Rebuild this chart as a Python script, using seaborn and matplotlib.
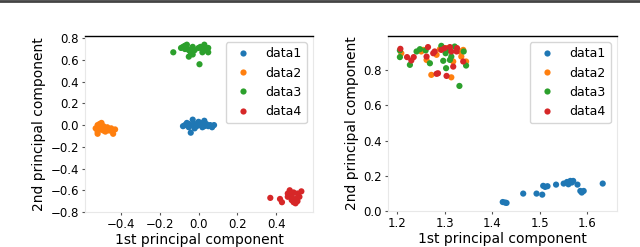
import numpy as np
import pandas as pd
import matplotlib
matplotlib.use("Agg")
import matplotlib.pyplot as plt
from matplotlib.lines import Line2D
import seaborn as sns

# ==========================================================
# DATA
# ==========================================================

labels = ["data1", "data2", "data3", "data4"]

# left panel
left_d1_x = [-0.08, -0.07, -0.06, -0.05, -0.04, -0.04, -0.03, -0.02, -0.01, 0.0, 0.01,
             0.02, 0.03, 0.04, 0.05, 0.06, 0.07, 0.08, -0.02, 0.0, 0.03, -0.05]
left_d1_y = [-0.01, 0.0, 0.02, -0.02, -0.07, 0.0, 0.05, 0.01, -0.01, 0.0, 0.02,
             -0.02, 0.04, 0.01, -0.01, 0.0, -0.02, 0.0, -0.03, 0.03, -0.01, 0.01]
left_d2_x = [-0.53, -0.52, -0.52, -0.51, -0.50, -0.50, -0.49, -0.49, -0.48, -0.47,
             -0.46, -0.45, -0.44, -0.43, -0.52, -0.51, -0.48]
left_d2_y = [-0.03, -0.06, 0.0, -0.02, -0.04, 0.02, -0.01, -0.05, -0.03, -0.02,
             -0.05, -0.03, -0.08, -0.04, -0.08, 0.01, -0.06]
left_d3_x = [-0.13, -0.08, -0.07, -0.06, -0.05, -0.06, -0.04, -0.03, -0.02, -0.03, 0.005,
             0.0, 0.02, 0.03, 0.04, 0.05, 0.02, -0.07, -0.09, 0.05, -0.05, 0.01]
left_d3_y = [0.67, 0.72, 0.73, 0.71, 0.69, 0.74, 0.67, 0.65, 0.69, 0.72, 0.56,
             0.71, 0.67, 0.74, 0.69, 0.67, 0.70, 0.70, 0.71, 0.71, 0.63, 0.72]
left_d4_x = [0.37, 0.42, 0.43, 0.46, 0.47, 0.48, 0.49, 0.50, 0.51, 0.52, 0.53,
             0.50, 0.48, 0.46, 0.51, 0.49]
left_d4_y = [-0.67, -0.68, -0.71, -0.63, -0.60, -0.65, -0.62, -0.68, -0.70, -0.66, -0.61,
             -0.72, -0.69, -0.66, -0.63, -0.71]

# right panel
right_d1_x = [1.422, 1.427, 1.430, 1.465, 1.493, 1.505, 1.507, 1.511, 1.516, 1.534, 1.550,
              1.557, 1.560, 1.564, 1.567, 1.570, 1.579, 1.585, 1.588, 1.592, 1.632]
right_d1_y = [0.051, 0.048, 0.046, 0.099, 0.099, 0.093, 0.143, 0.137, 0.141, 0.150, 0.156,
              0.165, 0.152, 0.171, 0.162, 0.171, 0.150, 0.114, 0.105, 0.114, 0.156]
right_d2_x = [1.209, 1.251, 1.262, 1.272, 1.283, 1.290, 1.314, 1.318, 1.332, 1.335, 1.339,
              1.345, 1.255, 1.304]
right_d2_y = [0.897, 0.907, 0.859, 0.774, 0.888, 0.920, 0.760, 0.850, 0.907, 0.878, 0.916,
              0.850, 0.916, 0.926]
right_d3_x = [1.206, 1.206, 1.227, 1.241, 1.260, 1.269, 1.293, 1.297, 1.302, 1.303, 1.311,
              1.314, 1.321, 1.331, 1.340, 1.345, 1.248, 1.307]
right_d3_y = [0.913, 0.875, 0.831, 0.907, 0.913, 0.840, 0.939, 0.854, 0.897, 0.812, 0.859,
              0.878, 0.935, 0.711, 0.907, 0.827, 0.920, 0.916]
right_d4_x = [1.207, 1.221, 1.230, 1.235, 1.262, 1.265, 1.276, 1.279, 1.283, 1.286, 1.293,
              1.300, 1.304, 1.311, 1.318, 1.325, 1.326, 1.339, 1.314]
right_d4_y = [0.922, 0.875, 0.856, 0.875, 0.878, 0.932, 0.897, 0.907, 0.780, 0.783, 0.916,
              0.926, 0.768, 0.932, 0.821, 0.907, 0.926, 0.850, 0.907]


def make_frame(xs, ys):
    parts = []
    for name, x, y in zip(labels, xs, ys):
        parts.append(pd.DataFrame({"x": x, "y": y, "group": name}))
    return pd.concat(parts, ignore_index=True)


left_df = make_frame([left_d1_x, left_d2_x, left_d3_x, left_d4_x],
                     [left_d1_y, left_d2_y, left_d3_y, left_d4_y])
right_df = make_frame([right_d1_x, right_d2_x, right_d3_x, right_d4_x],
                      [right_d1_y, right_d2_y, right_d3_y, right_d4_y])

# ==========================================================
# PLOT
# ==========================================================

plt.rcParams["font.family"] = ["DejaVu Sans"]
plt.rcParams["font.size"] = 10

fig = plt.figure(figsize=(6.4, 2.47), dpi=100)
ax1 = fig.add_axes([85 / 640, 35 / 247, 228 / 640, 176 / 247])
ax2 = fig.add_axes([388 / 640, 36 / 247, 229 / 640, 175 / 247])

palette = sns.color_palette("tab10", 4)

for ax, df in [(ax1, left_df), (ax2, right_df)]:
    sns.scatterplot(data=df, x="x", y="y", hue="group", palette=palette,
                    s=20, linewidth=0, ax=ax)
    handles, labs = ax.get_legend_handles_labels()
    ax.legend(handles, labs, loc="upper right", fontsize=9, handletextpad=0.8)
    ax.set_xlabel("1st principal component", fontsize=10, labelpad=1)
    ax.set_ylabel("2nd principal component", fontsize=10, labelpad=3)
    for side in ["left", "right", "bottom"]:
        ax.spines[side].set_color("#e8e8e8")
    ax.spines["top"].set_color("black")
    ax.spines["top"].set_linewidth(1.0)
    ax.tick_params(length=2.5, width=0.8, color="#555555", labelsize=8.5, pad=2)

ax1.set_xticks([-0.4, -0.2, 0.0, 0.2, 0.4])
ax1.set_yticks([0.8, 0.6, 0.4, 0.2, 0.0, -0.2, -0.4, -0.6, -0.8])
ax1.set_xlim(-0.585, 0.59)
ax1.set_ylim(-0.80, 0.82)

ax2.set_xticks([1.2, 1.3, 1.4, 1.5, 1.6])
ax2.set_yticks([0.0, 0.2, 0.4, 0.6, 0.8])
ax2.set_xlim(1.181, 1.662)
ax2.set_ylim(0.0, 0.995)

# thin page border at the very top
fig.add_artist(Line2D([0, 1], [0.996, 0.996], color="#444444", lw=2,
                      transform=fig.transFigure))

fig.savefig("out.png", dpi=100)
